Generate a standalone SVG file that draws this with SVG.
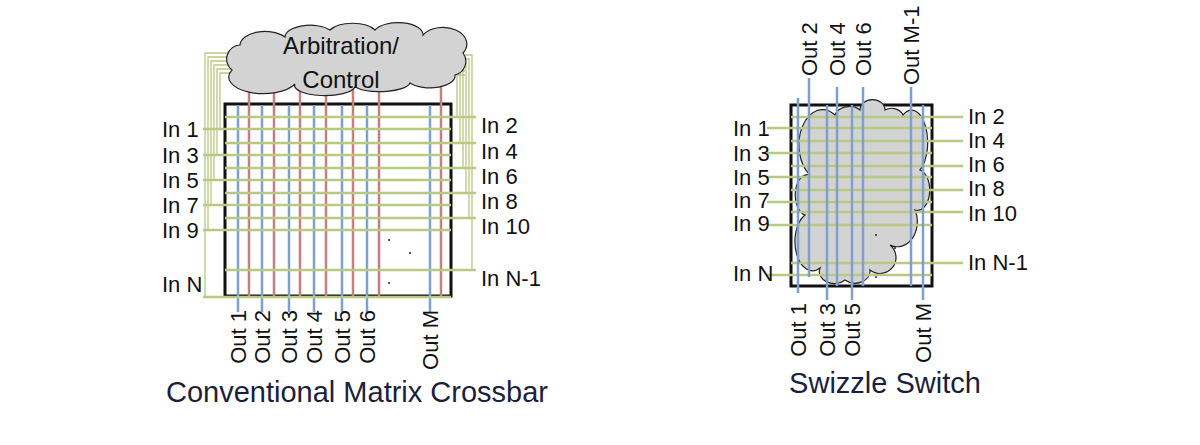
<svg xmlns="http://www.w3.org/2000/svg" width="1200" height="445" viewBox="0 0 1200 445">
<style>
text{font-family:"Liberation Sans",Arial,sans-serif;fill:#111}
.lb{font-size:22px}
.t{font-size:29px;fill:#1b1f3b}
.g{stroke:#b8c981;stroke-width:2.5;fill:none}
.f{stroke:#b8c981;stroke-width:1.3;fill:none}
.b{stroke:#7f9fcc;stroke-width:2.5}
.r{stroke:#c47f7f;stroke-width:2.5}
.box{fill:#fff;stroke:#111;stroke-width:3}
.cl{fill:#d3d3d3;stroke:#222;stroke-width:1.2}
</style>
<rect width="1200" height="445" fill="#fff"/>
<g id="crossbar">
<rect class="box" x="225" y="104" width="226" height="192"/>
<g id="feeders">
<path class="f" d="M240 53H205V297M240 57H208V230M240 61H211V205M240 65H214V180M240 69H217V155M240 73H220V129"/>
<path class="f" d="M465 55H472V270M465 59H469V218M465 63H466V193M465 67H463V168M465 71H460V143M465 75H457V117"/>
</g>
<g id="reds">
<line class="r" x1="249" y1="85" x2="249" y2="296"/><line class="r" x1="274" y1="85" x2="274" y2="296"/>
<line class="r" x1="300" y1="85" x2="300" y2="296"/><line class="r" x1="326" y1="85" x2="326" y2="296"/>
<line class="r" x1="353" y1="85" x2="353" y2="296"/><line class="r" x1="379" y1="85" x2="379" y2="296"/>
<line class="r" x1="441" y1="80" x2="441" y2="296"/>
</g>
<g id="blues">
<line class="b" x1="238" y1="105" x2="238" y2="312"/><line class="b" x1="262" y1="105" x2="262" y2="312"/>
<line class="b" x1="289" y1="105" x2="289" y2="312"/><line class="b" x1="314" y1="105" x2="314" y2="312"/>
<line class="b" x1="342" y1="105" x2="342" y2="312"/><line class="b" x1="367" y1="105" x2="367" y2="312"/>
<line class="b" x1="430" y1="105" x2="430" y2="312"/>
</g>
<g id="ins">
<path class="g" d="M203 129H451M203 155H451M203 180H451M203 205H451M203 230H451M203 297H451"/>
<path class="g" d="M225 117H476M225 143H476M225 168H476M225 193H476M225 218H476M225 270H476"/>
</g>
<circle cx="389" cy="240" r="1" fill="#222"/><circle cx="410" cy="253" r="1" fill="#222"/><circle cx="389" cy="283" r="1" fill="#222"/>
<g id="cloud1">
<path class="cl" d="M232 70a14 14 0 0 1 8 -25a25 14 0 0 1 45 -8a25 12 0 0 1 45 -7a25 12 0 0 1 45 0a25 12 0 0 1 48 5a20 14 0 0 1 40 18a14 14 0 0 1 -8 22a25 12 0 0 1 -45 8a30 10 0 0 1 -55 4a30 10 0 0 1 -60 -3a25 12 0 0 1 -63 -14z"/>
<text x="341" y="54" font-size="24" text-anchor="middle">Arbitration/</text>
<text x="341" y="88" font-size="24" text-anchor="middle">Control</text>
</g>
<g class="lb">
<text x="162" y="137">In 1</text><text x="162" y="163">In 3</text><text x="162" y="188">In 5</text>
<text x="162" y="213">In 7</text><text x="162" y="238">In 9</text><text x="162" y="292">In N</text>
<text x="481" y="133">In 2</text><text x="481" y="159">In 4</text><text x="481" y="184">In 6</text>
<text x="481" y="209">In 8</text><text x="481" y="234">In 10</text><text x="481" y="286">In N-1</text>
</g>
<g class="lb" text-anchor="end">
<text transform="translate(246,310) rotate(-90)">Out 1</text>
<text transform="translate(270,310) rotate(-90)">Out 2</text>
<text transform="translate(297,310) rotate(-90)">Out 3</text>
<text transform="translate(322,310) rotate(-90)">Out 4</text>
<text transform="translate(350,310) rotate(-90)">Out 5</text>
<text transform="translate(375,310) rotate(-90)">Out 6</text>
<text transform="translate(438,310) rotate(-90)">Out M</text>
</g>
<text class="t" x="357" y="402" text-anchor="middle">Conventional Matrix Crossbar</text>
</g>
<g id="swizzle">
<rect class="box" x="791" y="105" width="141" height="181"/>
<path class="cl" d="M805 215a12 20 0 0 1 5 -40a20 30 0 0 1 25 -60a15 12 0 0 1 25 -5a12 10 0 0 1 25 0a12 10 0 0 1 18 5a15 30 0 0 1 17 55a12 20 0 0 1 -5 40a20 25 0 0 1 -25 35a15 15 0 0 1 -20 25a15 12 0 0 1 -25 10a15 12 0 0 1 -25 -12a15 25 0 0 1 -15 -53z"/>
<circle cx="876" cy="235" r="1" fill="#222"/><circle cx="895" cy="248" r="1" fill="#222"/><circle cx="876" cy="277" r="1" fill="#222"/>
<g id="sw-ins">
<path class="g" d="M767 128H932M767 153H932M767 177H932M767 202H932M767 225H932M767 275H932"/>
<path class="g" d="M791 117H963M791 141H963M791 166H963M791 190H963M791 212H963M791 263H963"/>
</g>
<g id="sw-outs">
<line class="b" x1="798" y1="98" x2="798" y2="293"/><line class="b" x1="827" y1="105" x2="827" y2="300"/>
<line class="b" x1="852" y1="105" x2="852" y2="300"/><line class="b" x1="923" y1="105" x2="923" y2="300"/>
<line class="b" x1="809" y1="78" x2="809" y2="277"/><line class="b" x1="837" y1="87" x2="837" y2="286"/>
<line class="b" x1="863" y1="87" x2="863" y2="286"/><line class="b" x1="911" y1="87" x2="911" y2="286"/>
</g>
<g class="lb">
<text x="733" y="136">In 1</text><text x="733" y="161">In 3</text><text x="733" y="185">In 5</text>
<text x="733" y="208">In 7</text><text x="733" y="231">In 9</text><text x="733" y="281">In N</text>
<text x="968" y="124">In 2</text><text x="968" y="148">In 4</text><text x="968" y="172">In 6</text>
<text x="968" y="196">In 8</text><text x="968" y="221">In 10</text><text x="968" y="270">In N-1</text>
<text transform="translate(817,76) rotate(-90)">Out 2</text>
<text transform="translate(845,76) rotate(-90)">Out 4</text>
<text transform="translate(871,76) rotate(-90)">Out 6</text>
<text transform="translate(919,85) rotate(-90)">Out M-1</text>
</g>
<g class="lb" text-anchor="end">
<text transform="translate(806,303) rotate(-90)">Out 1</text>
<text transform="translate(835,303) rotate(-90)">Out 3</text>
<text transform="translate(860,303) rotate(-90)">Out 5</text>
<text transform="translate(931,303) rotate(-90)">Out M</text>
</g>
<text class="t" x="885" y="393" text-anchor="middle">Swizzle Switch</text>
</g>
</svg>
